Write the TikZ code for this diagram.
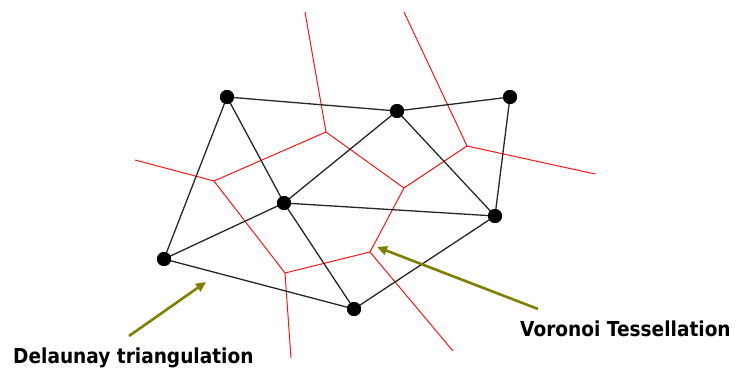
\documentclass[tikz,border=0pt]{standalone}
\usepackage{fontspec}
\newfontfamily\labfont[FakeStretch=0.9]{DejaVu Sans}
\usetikzlibrary{arrows.meta}
\definecolor{olivearrow}{RGB}{128,128,0}
\definecolor{vred}{RGB}{255,20,20}
\begin{document}
\begin{tikzpicture}[x=1pt,y=-1pt,
  site/.style={circle,fill=black,inner sep=0pt,minimum size=14pt},
  dedge/.style={draw=black!85,line width=1.3pt},
  vedge/.style={draw=vred,line width=1pt},
  pointer/.style={draw=olivearrow,line width=2.6pt,-{Triangle[length=10pt,width=9pt]}},
  lab/.style={font=\labfont\bfseries\fontsize{20.6}{24}\selectfont,inner sep=0pt}]
\useasboundingbox (0,0) rectangle (743,369);
% Voronoi vertices
\coordinate (V1) at (326,132);
\coordinate (V2) at (214,181);
\coordinate (V3) at (467,146);
\coordinate (V4) at (404,188);
\coordinate (V5) at (370,252);
\coordinate (V6) at (285,273);
\coordinate (R1) at (305,12);
\coordinate (R2) at (135,160);
\coordinate (R3) at (404,12);
\coordinate (R4) at (595,174);
\coordinate (R5) at (291,358);
\coordinate (R6) at (453,351);
\draw[vedge] (R1) -- (V1) -- (V2) -- (R2);
\draw[vedge] (V1) -- (V4) -- (V3) -- (R3);
\draw[vedge] (V3) -- (R4);
\draw[vedge] (V2) -- (V6) -- (V5) -- (V4);
\draw[vedge] (V6) -- (R5);
\draw[vedge] (V5) -- (R6);
% Delaunay sites
\node[site] (A) at (227,97) {};
\node[site] (B) at (397,111) {};
\node[site] (C) at (510,97) {};
\node[site] (D) at (284,203) {};
\node[site] (E) at (495,216) {};
\node[site] (F) at (164,259) {};
\node[site] (G) at (354,309) {};
\draw[dedge] (A.center) -- (B.center) -- (C.center) -- (E.center) -- (G.center) -- (F.center) -- (A.center);
\draw[dedge] (A.center) -- (D.center) -- (B.center) -- (E.center) -- (D.center) -- (F.center);
\draw[dedge] (D.center) -- (G.center);
% redraw dots on top
\foreach \n in {A,B,C,D,E,F,G} \fill (\n) circle (7pt);
% labels and pointers
\node[lab,anchor=base west] (L1) at (13,363) {Delaunay triangulation};
\node[lab,anchor=base west] (L2) at (520,336) {Voronoi Tessellation};
\coordinate (P1s) at (129,336);
\coordinate (P1e) at (206,282);
\coordinate (P2s) at (538,309);
\coordinate (P2e) at (377,247);
\draw[pointer] (P1s) -- (P1e);
\draw[pointer] (P2s) -- (P2e);
\end{tikzpicture}
\end{document}
